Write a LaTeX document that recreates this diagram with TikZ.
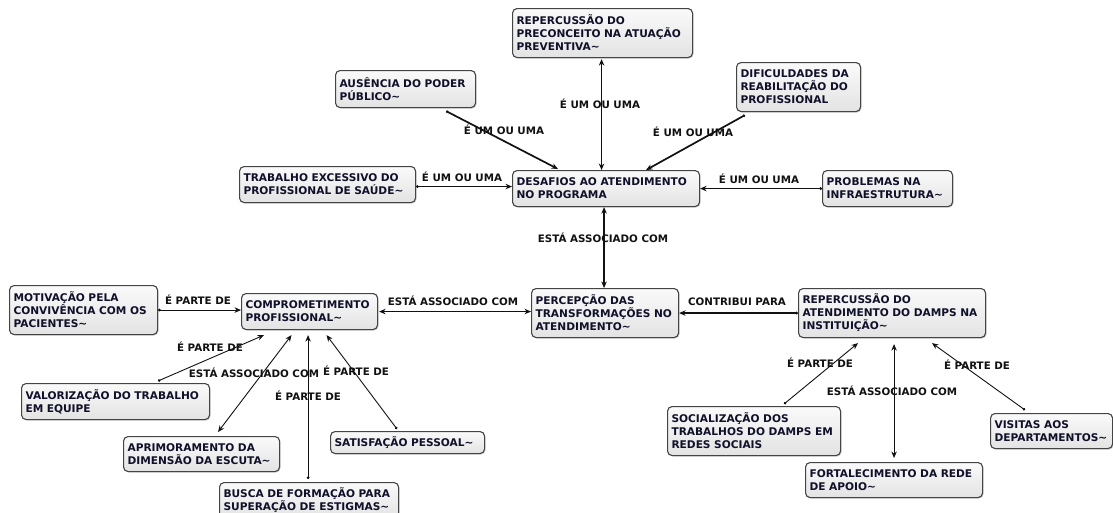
\documentclass[tikz,border=0pt]{standalone}
\usepackage{fontspec}
\setmainfont{DejaVu Sans}
\usetikzlibrary{arrows.meta,shadows}

\definecolor{boxline}{HTML}{444444}
\definecolor{boxtext}{HTML}{10102A}
\definecolor{linkcol}{HTML}{111111}

\tikzset{
  cbox/.style={draw=boxline, line width=1.1pt, rounded corners=4.5pt,
    top color=black!2, bottom color=black!11,
    drop shadow={shadow xshift=1pt, shadow yshift=-1pt, fill=black!30, opacity=0.6},
    inner xsep=4pt, inner ysep=3pt, align=left, anchor=north west,
    text=boxtext, font=\fontsize{10.6}{13}\selectfont\bfseries},
  lbl/.style={font=\fontsize{10.3}{12}\selectfont\bfseries, text=linkcol, inner sep=0pt},
  heavy/.style={line width=1.7pt, draw=linkcol},
  medium/.style={line width=1.3pt, draw=linkcol},
  light/.style={line width=0.9pt, draw=linkcol},
  dottip/.style={{Circle[length=2.6pt]}-{Stealth[length=6.5pt,width=5.5pt]}},
  bothtip/.style={{Stealth[length=6.5pt,width=5.5pt]}-{Stealth[length=6.5pt,width=5.5pt]}},
}

% concept box: name, left, top, width, height, text
\newcommand\conceptbox[6]{%
  \node[cbox, text width=\dimexpr #4pt-8pt\relax, minimum height=#5pt] (#1) at (#2,#3) {#6};}

\begin{document}
\begin{tikzpicture}[x=1pt,y=-1pt]
\useasboundingbox (0,0) rectangle (1113,512);

% concepts
\conceptbox{pre}{512}{8}{180}{49}{REPERCUSSÃO DO\\PRECONCEITO NA ATUAÇÃO\\PREVENTIVA\char"223C}
\conceptbox{aus}{335}{70}{140}{37}{AUSÊNCIA DO PODER\\PÚBLICO\char"223C}
\conceptbox{dif}{736}{62}{124}{49}{DIFICULDADES DA\\REABILITAÇÃO DO\\PROFISSIONAL}
\conceptbox{tra}{239}{166}{176}{36}{TRABALHO EXCESSIVO DO\\PROFISSIONAL DE SAÚDE\char"223C}
\conceptbox{des}{512}{170}{187}{36}{DESAFIOS AO ATENDIMENTO\\NO PROGRAMA}
\conceptbox{pro}{822}{170}{130}{36}{PROBLEMAS NA\\INFRAESTRUTURA\char"223C}
\conceptbox{mot}{9}{285}{148}{49}{MOTIVAÇÃO PELA\\CONVIVÊNCIA COM OS\\PACIENTES\char"223C}
\conceptbox{com}{241}{293}{136}{36}{COMPROMETIMENTO\\PROFISSIONAL\char"223C}
\conceptbox{per}{531}{288}{147}{49}{PERCEPÇÃO DAS\\TRANSFORMAÇÕES NO\\ATENDIMENTO\char"223C}
\conceptbox{dam}{798}{288}{187}{49}{REPERCUSSÃO DO\\ATENDIMENTO DO DAMPS NA\\INSTITUIÇÃO\char"223C}
\conceptbox{val}{21}{383}{188}{36}{VALORIZAÇÃO DO TRABALHO\\EM EQUIPE}
\conceptbox{apr}{123}{436}{156}{35}{APRIMORAMENTO DA\\DIMENSÃO DA ESCUTA\char"223C}
\conceptbox{bus}{219}{482}{179}{36}{BUSCA DE FORMAÇÃO PARA\\SUPERAÇÃO DE ESTIGMAS\char"223C}
\conceptbox{sat}{330}{431}{154}{22}{SATISFAÇÃO PESSOAL\char"223C}
\conceptbox{soc}{667}{406}{173}{49}{SOCIALIZAÇÃO DOS\\TRABALHOS DO DAMPS EM\\REDES SOCIAIS}
\conceptbox{vis}{990}{413}{122}{35}{VISITAS AOS\\DEPARTAMENTOS\char"223C}
\conceptbox{fort}{805}{462}{177}{35}{FORTALECIMENTO DA REDE\\DE APOIO\char"223C}

% links into the central challenge concept
\draw[heavy, bothtip] ([xshift=-1pt,yshift=-1pt]pre.south) -- ([xshift=-1pt]pre.south |- des.north);
\draw[heavy, dottip] ([xshift=-30pt,yshift=-3pt]aus.south east) -- ([xshift=46pt,yshift=1pt]des.north west);
\draw[heavy, dottip] ([xshift=9pt,yshift=-3pt]dif.south west) -- ([xshift=40pt]des.north);
\draw[heavy, dottip] ([yshift=-2pt]tra.east) -- ([yshift=-2pt]tra.east -| des.west);
\draw[heavy, dottip] (pro.west) -- (pro.west -| des.east);
\draw[medium, bothtip] ([xshift=-2pt]des.south) -- ([xshift=-2pt]des.south |- per.north);

% middle row
\draw[medium, bothtip] ([xshift=1pt]com.east) -- (com.east -| per.west);
\draw[light, dottip] (mot.east) -- (mot.east -| com.west);
\draw[medium, dottip] (dam.west) -- (dam.west -| per.east);

% parts of professional commitment
\draw[light, dottip] ([xshift=137pt,yshift=2pt]val.north west) -- ([xshift=23pt,yshift=-5pt]com.south west);
\draw[light, bothtip] ([xshift=95pt,yshift=4pt]apr.north west) -- ([xshift=-18pt,yshift=-5pt]com.south);
\draw[light, dottip] ([xshift=-1pt,yshift=3pt]bus.north) -- ([xshift=-1pt,yshift=-5pt]bus.north |- com.south);
\draw[light, dottip] ([xshift=67pt,yshift=2pt]sat.north west) -- ([xshift=17pt,yshift=-5pt]com.south);

% parts of the DAMPS repercussion
\draw[light, dottip] ([xshift=117pt,yshift=2pt]soc.north west) -- ([xshift=60pt,yshift=-5pt]dam.south west);
\draw[light, bothtip] ([yshift=4pt]fort.north) -- ([yshift=-6pt]fort.north |- dam.south);
\draw[light, dottip] ([xshift=35pt,yshift=3pt]vis.north west) -- ([xshift=134pt,yshift=-5pt]dam.south west);

% link labels
\node[lbl] (l1) at (600,104) {É UM OU UMA};
\node[lbl] (l2) at (504,130) {É UM OU UMA};
\node[lbl] (l3) at (693,132) {É UM OU UMA};
\node[lbl] (l4) at (462,177) {É UM OU UMA};
\node[lbl] (l5) at (759,179) {É UM OU UMA};
\node[lbl] (l6) at (603,238) {ESTÁ ASSOCIADO COM};
\node[lbl] (l7) at (453,301) {ESTÁ ASSOCIADO COM};
\node[lbl] (l8) at (198,300) {É PARTE DE};
\node[lbl] (l9) at (737,302) {CONTRIBUI PARA};
\node[lbl] (l10) at (210,347) {É PARTE DE};
\node[lbl] (l11) at (254,373) {ESTÁ ASSOCIADO COM};
\node[lbl] (l12) at (356,371) {É PARTE DE};
\node[lbl] (l13) at (308,396) {É PARTE DE};
\node[lbl] (l14) at (820,363) {É PARTE DE};
\node[lbl] (l15) at (892,391) {ESTÁ ASSOCIADO COM};
\node[lbl] (l16) at (977,365) {É PARTE DE};
\end{tikzpicture}
\end{document}
